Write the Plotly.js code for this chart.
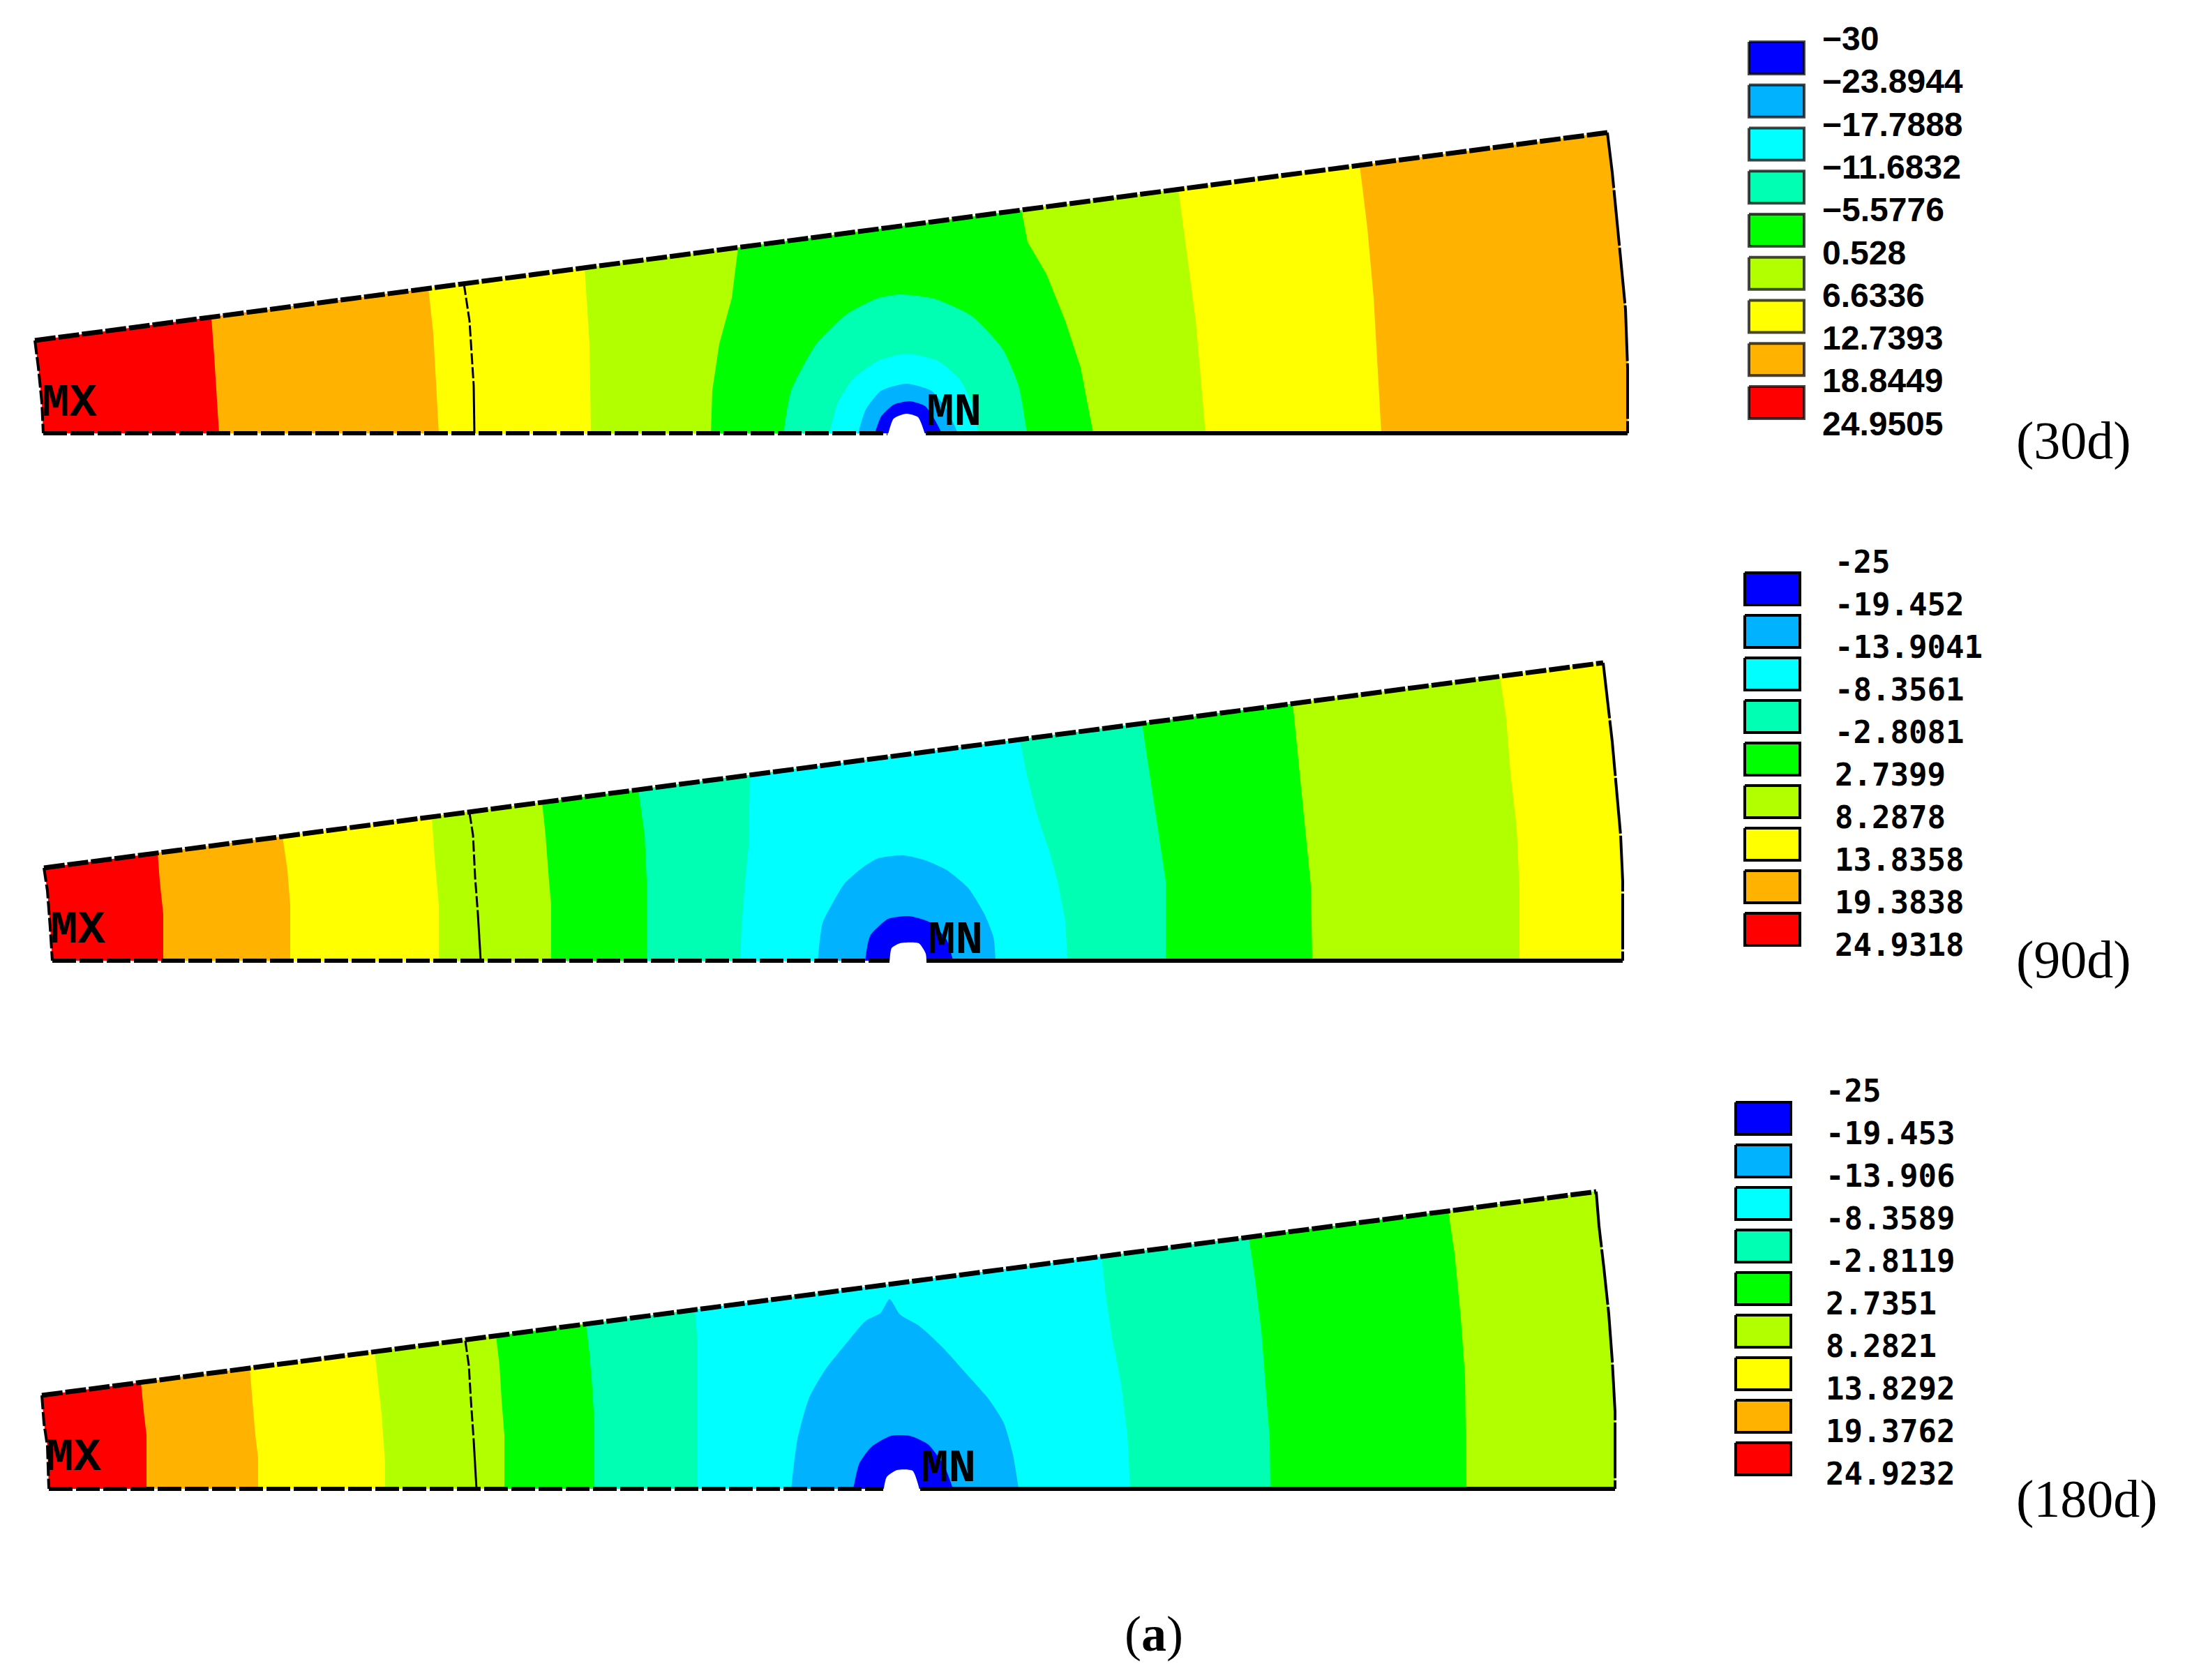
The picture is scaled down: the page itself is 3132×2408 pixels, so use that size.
<!DOCTYPE html>
<html>
<head>
<meta charset="utf-8">
<script src="https://cdn.plot.ly/plotly-3.0.1.min.js"></script>
<style>html,body{margin:0;padding:0;background:#fff}</style>
</head>
<body>
<div id="myDiv"></div>
<script>
// contour colours, low to high
const BLUE = '#0000ff', AZURE = '#00b2ff', CYAN = '#00ffff', MINT = '#00ffb2', GREEN = '#00ff00'
const LIME = '#b2ff00', YELLOW = '#ffff00', ORANGE = '#ffb200', RED = '#ff0000'
const levelColors = [BLUE, AZURE, CYAN, MINT, GREEN, LIME, YELLOW, ORANGE, RED]

const labels30 = ['\u221230', '\u221223.8944', '\u221217.7888', '\u221211.6832', '\u22125.5776', '0.528', '6.6336', '12.7393', '18.8449', '24.9505']
const labels90 = ['-25', '-19.452', '-13.9041', '-8.3561', '-2.8081', '2.7399', '8.2878', '13.8358', '19.3838', '24.9318']
const labels180 = ['-25', '-19.453', '-13.906', '-8.3589', '-2.8119', '2.7351', '8.2821', '13.8292', '19.3762', '24.9232']

// ---- 30d ----
const leftX30 = [50, 55, 60, 62]
const leftY30 = [488, 527, 577, 621]
const rightX30 = [2304, 2311, 2322, 2330, 2333, 2333]
const rightY30 = [190, 247, 360, 443, 527, 621]
const bands30 = [RED, ORANGE, YELLOW, LIME, GREEN, LIME, YELLOW, ORANGE]
const boundX30 = [
  [303, 307, 314],
  [614, 621, 629],
  [838, 845, 847],
  [1058, 1049, 1031, 1021, 1019],
  [1464, 1473, 1500, 1527, 1549, 1562, 1567],
  [1689, 1701, 1714, 1728],
  [1949, 1960, 1969, 1980]
]
const boundY30 = [
  [455, 510, 621],
  [413, 477, 621],
  [384, 493, 621],
  [355, 427, 493, 560, 621],
  [301, 347, 393, 460, 527, 593, 621],
  [271, 360, 460, 621],
  [237, 327, 427, 621]
]
const domes30 = [MINT, CYAN, AZURE, BLUE]
const domeX30 = [
  [1123, 1134, 1170, 1214, 1259, 1290, 1339, 1393, 1437, 1460, 1472],
  [1189, 1201, 1223, 1259, 1299, 1344, 1375, 1393, 1402],
  [1230, 1241, 1263, 1299, 1335, 1357, 1373],
  [1254, 1263, 1281, 1304, 1326, 1339, 1350]
]
const domeY30 = [
  [621, 560, 493, 450, 427, 422, 428, 453, 500, 553, 621],
  [621, 577, 543, 517, 507, 517, 543, 577, 621],
  [621, 587, 560, 550, 560, 587, 621],
  [621, 597, 580, 575, 582, 600, 621]
]
const holeX30 = [1272, 1281, 1299, 1316, 1327]
const holeY30 = [626, 600, 593, 598, 626]
const seamX30 = [665, 673, 679, 680]
const seamY30 = [407, 460, 553, 621]

// ---- 90d ----
const leftX90 = [63, 68, 72, 75]
const leftY90 = [1244, 1277, 1330, 1377]
const rightX90 = [2298, 2304, 2311, 2317, 2323, 2326, 2326]
const rightY90 = [950, 1003, 1063, 1130, 1197, 1263, 1377]
const bands90 = [RED, ORANGE, YELLOW, LIME, GREEN, MINT, CYAN, MINT, GREEN, LIME, YELLOW]
const boundX90 = [
  [226, 229, 234, 234],
  [405, 412, 416, 416],
  [619, 623, 629, 629],
  [777, 782, 787, 790, 790],
  [915, 924, 927, 927],
  [1075, 1073, 1068, 1063, 1061],
  [1462, 1471, 1487, 1504, 1516, 1527, 1530],
  [1637, 1647, 1656, 1665, 1671, 1671],
  [1853, 1862, 1871, 1879, 1881],
  [2150, 2159, 2165, 2174, 2178, 2178]
]
const boundY90 = [
  [1222, 1263, 1310, 1377],
  [1199, 1247, 1297, 1377],
  [1171, 1230, 1297, 1377],
  [1150, 1197, 1263, 1297, 1377],
  [1132, 1197, 1263, 1377],
  [1111, 1213, 1263, 1330, 1377],
  [1060, 1107, 1170, 1220, 1263, 1320, 1377],
  [1037, 1103, 1163, 1223, 1263, 1377],
  [1008, 1097, 1190, 1270, 1377],
  [969, 1030, 1107, 1187, 1273, 1377]
]
const domes90 = [AZURE, BLUE]
const domeX90 = [
  [1172, 1179, 1192, 1210, 1237, 1259, 1295, 1326, 1357, 1388, 1411, 1424, 1427],
  [1240, 1244, 1248, 1273, 1303, 1333, 1357, 1366]
]
const domeY90 = [
  [1377, 1323, 1297, 1267, 1243, 1230, 1226, 1233, 1247, 1273, 1310, 1343, 1377],
  [1377, 1352, 1340, 1317, 1313, 1322, 1347, 1377]
]
const holeX90 = [1275, 1278, 1290, 1317, 1327, 1328]
const holeY90 = [1382, 1359, 1352, 1352, 1367, 1382]
const seamX90 = [673, 678, 681, 685, 689]
const seamY90 = [1165, 1197, 1257, 1310, 1377]

// ---- 180d ----
const leftX180 = [60, 63, 68, 70]
const leftY180 = [2000, 2040, 2073, 2134]
const rightX180 = [2288, 2292, 2299, 2306, 2311, 2315, 2315]
const rightY180 = [1708, 1757, 1817, 1883, 1950, 2023, 2134]
const bands180 = [RED, ORANGE, YELLOW, LIME, GREEN, MINT, CYAN, MINT, GREEN, LIME]
const boundX180 = [
  [202, 206, 210, 210],
  [358, 362, 366, 370, 370],
  [537, 542, 547, 552, 552],
  [711, 716, 719, 723, 723],
  [840, 845, 849, 852, 852],
  [996, 1000, 1000],
  [1579, 1585, 1594, 1607, 1616, 1620],
  [1790, 1799, 1808, 1814, 1820, 1821],
  [2076, 2085, 2094, 2100, 2102]
]
const boundY180 = [
  [1981, 2023, 2057, 2134],
  [1961, 2007, 2057, 2090, 2134],
  [1937, 1980, 2027, 2097, 2134],
  [1915, 1957, 2007, 2057, 2134],
  [1898, 1940, 1990, 2040, 2134],
  [1877, 1923, 2134],
  [1801, 1857, 1917, 1983, 2057, 2134],
  [1773, 1833, 1907, 1983, 2063, 2134],
  [1736, 1797, 1890, 1973, 2134]
]
const domes180 = [AZURE, BLUE]
const domeX180 = [
  [1134, 1143, 1160, 1183, 1215, 1241, 1262, 1275, 1290, 1317, 1350, 1386, 1417, 1439, 1452, 1460],
  [1223, 1232, 1250, 1277, 1304, 1330, 1353, 1366]
]
const domeY180 = [
  [2134, 2063, 2003, 1963, 1923, 1893, 1882, 1862, 1884, 1900, 1930, 1970, 2005, 2040, 2085, 2134],
  [2134, 2097, 2073, 2058, 2058, 2070, 2100, 2134]
]
const holeX180 = [1266, 1271, 1286, 1308, 1319]
const holeY180 = [2139, 2117, 2107, 2108, 2139]
const seamX180 = [667, 672, 675, 679, 683]
const seamY180 = [1922, 1957, 2007, 2065, 2134]

let traces = []

function poly(x, y, color, curved) {
    traces.push({x: x, y: y, mode: 'lines', fill: 'toself', fillcolor: color,
        line: {width: 0, color: color, shape: curved ? 'spline' : 'linear', smoothing: 0.6},
        hoverinfo: 'skip'})
}

function stroke(x, y, width, dash) {
    traces.push({x: x, y: y, mode: 'lines',
        line: {width: width, color: '#000', dash: dash || 'solid'}, hoverinfo: 'skip'})
}

function words(x, y, text, family, size, bold, pos) {
    traces.push({x: x, y: y, text: text, mode: 'text', textposition: pos || 'middle right',
        textfont: {family: family, size: size, color: '#000', weight: bold ? 'bold' : 'normal'},
        cliponaxis: false, hoverinfo: 'skip'})
}

function panel(p) {
    // whole outline first, then each band painted from its left boundary out to the right edge
    let rx = p.rightX.slice().reverse()
    let ry = p.rightY.slice().reverse()
    poly(p.leftX.concat(rx), p.leftY.concat(ry), p.bands[0])
    p.boundX.forEach((bx, i) => poly(bx.concat(rx), p.boundY[i].concat(ry), p.bands[i + 1]))
    p.domes.forEach((c, i) => poly(p.domeX[i], p.domeY[i], c, true))
    poly(p.holeX, p.holeY, '#ffffff', true)

    // edges
    let n = p.leftY.length - 1
    let bottom = p.leftY[n]
    let cut = p.seamX.length - 2
    stroke([p.leftX[0], p.rightX[0]], [p.leftY[0], p.rightY[0]], 7, '30px,4px')
    stroke(p.leftX, p.leftY, 4, '20px,4px')
    stroke(p.rightX, p.rightY, 4, '80px,3px')
    stroke([p.leftX[n], p.holeX[0]], [bottom, bottom], 6, '34px,5px')
    stroke([p.holeX[p.holeX.length - 1], p.rightX[p.rightX.length - 1]], [bottom, bottom], 6)
    stroke(p.seamX.slice(0, cut + 1), p.seamY.slice(0, cut + 1), 3, '16px,4px')
    stroke(p.seamX.slice(cut), p.seamY.slice(cut), 3)

    // MX / MN markers
    words([p.mxX], [p.mxY], ['MX'], 'Liberation Mono', 66, true)
    words([p.mnX], [p.mnY], ['MN'], 'Liberation Mono', 66, true)

    // colour key
    levelColors.forEach((c, i) => {
        let y0 = p.keyTop + i * p.keyStep
        let y1 = y0 + 46
        traces.push({x: [p.keyLeft, p.keyLeft + 79, p.keyLeft + 79, p.keyLeft, p.keyLeft],
            y: [y0, y0, y1, y1, y0], mode: 'lines', fill: 'toself', fillcolor: c,
            line: {width: 4, color: p.crisp ? '#000' : 'rgba(0,0,0,0.72)'}, hoverinfo: 'skip'})
    })
    let ly = p.labels.map((t, i) => p.labelTop + i * p.labelStep)
    let lx = p.labels.map(t => p.labelX)
    if (p.crisp) words(lx, ly, p.labels, 'DejaVu Sans Mono', 44, true)
    else words(lx, ly, p.labels, 'Liberation Sans', 48, true)

    words([2890], [p.tagY], [p.tag], 'Liberation Serif', 76, false)
}

panel({leftX: leftX30, leftY: leftY30, rightX: rightX30, rightY: rightY30, bands: bands30,
    boundX: boundX30, boundY: boundY30, domes: domes30, domeX: domeX30, domeY: domeY30,
    holeX: holeX30, holeY: holeY30, seamX: seamX30, seamY: seamY30,
    mxX: 60, mxY: 579, mnX: 1328, mnY: 592, crisp: false,
    labels: labels30, labelX: 2612, labelTop: 60, labelStep: 61.3,
    keyLeft: 2507, keyTop: 60, keyStep: 61.75,
    tag: '(30d)', tagY: 638})

panel({leftX: leftX90, leftY: leftY90, rightX: rightX90, rightY: rightY90, bands: bands90,
    boundX: boundX90, boundY: boundY90, domes: domes90, domeX: domeX90, domeY: domeY90,
    holeX: holeX90, holeY: holeY90, seamX: seamX90, seamY: seamY90,
    mxX: 72, mxY: 1334, mnX: 1330, mnY: 1349, crisp: true,
    labels: labels90, labelX: 2630, labelTop: 810, labelStep: 61,
    keyLeft: 2501, keyTop: 821, keyStep: 61,
    tag: '(90d)', tagY: 1382})

panel({leftX: leftX180, leftY: leftY180, rightX: rightX180, rightY: rightY180, bands: bands180,
    boundX: boundX180, boundY: boundY180, domes: domes180, domeX: domeX180, domeY: domeY180,
    holeX: holeX180, holeY: holeY180, seamX: seamX180, seamY: seamY180,
    mxX: 66, mxY: 2090, mnX: 1320, mnY: 2106, crisp: true,
    labels: labels180, labelX: 2617, labelTop: 1568, labelStep: 61,
    keyLeft: 2488, keyTop: 1580, keyStep: 61,
    tag: '(180d)', tagY: 2155})

words([1654], [2348], ['(<b>a</b>)'], 'Liberation Serif', 72, false, 'middle center')

let layout = {
    width: 3132, height: 2408,
    margin: {l: 0, r: 0, t: 0, b: 0},
    paper_bgcolor: '#fff', plot_bgcolor: '#fff',
    showlegend: false, hovermode: false,
    xaxis: {range: [0, 3132], visible: false, fixedrange: true},
    yaxis: {range: [2408, 0], visible: false, fixedrange: true}
}

Plotly.newPlot('myDiv', traces, layout, {displayModeBar: false, staticPlot: true})
</script>
</body>
</html>
